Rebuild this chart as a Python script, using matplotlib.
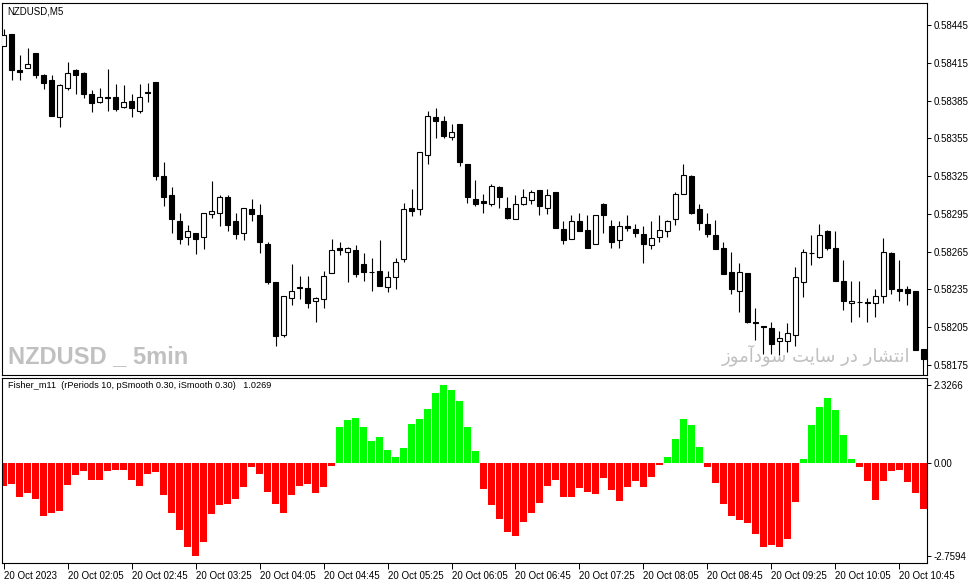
import unicodedata
import matplotlib
matplotlib.use("Agg")
import matplotlib.pyplot as plt
import numpy as np

plt.rcParams['font.family'] = ['Liberation Sans', 'DejaVu Sans']

# ---------------- data ----------------
opens = [
    0.58428, 0.58438, 0.58409, 0.58411, 0.58423, 0.58405, 0.58401, 0.58372, 0.58395, 0.58409,
    0.58407, 0.58390, 0.58384, 0.58388, 0.58388, 0.58380, 0.58385, 0.58377, 0.58392, 0.58400,
    0.58325, 0.58310, 0.58289, 0.58277, 0.58280, 0.58277, 0.58295, 0.58296, 0.58308, 0.58289,
    0.58280, 0.58299, 0.58294, 0.58271, 0.58241, 0.58199, 0.58228, 0.58236, 0.58236, 0.58226,
    0.58227, 0.58248, 0.58268, 0.58265, 0.58266, 0.58255, 0.58249, 0.58250, 0.58237, 0.58245,
    0.58259, 0.58300, 0.58299, 0.58342, 0.58372, 0.58369, 0.58356, 0.58366, 0.58335, 0.58307,
    0.58305, 0.58303, 0.58316, 0.58300, 0.58291, 0.58303, 0.58306, 0.58314, 0.58300, 0.58312,
    0.58283, 0.58275, 0.58289, 0.58282, 0.58271, 0.58303, 0.58285, 0.58274, 0.58285, 0.58283,
    0.58279, 0.58270, 0.58277, 0.58281, 0.58291, 0.58311, 0.58325, 0.58299, 0.58287, 0.58278,
    0.58268, 0.58249, 0.58234, 0.58248, 0.58209, 0.58206, 0.58204, 0.58194, 0.58194, 0.58199,
    0.58241, 0.58264, 0.58261, 0.58281, 0.58268, 0.58242, 0.58224, 0.58225, 0.58225, 0.58224,
    0.58230, 0.58264, 0.58235, 0.58235, 0.58234, 0.58188]

highs = [
    0.58442, 0.58438, 0.58421, 0.58427, 0.58423, 0.58406, 0.58405, 0.58398, 0.58416, 0.58410,
    0.58408, 0.58393, 0.58395, 0.58410, 0.58398, 0.58397, 0.58390, 0.58398, 0.58399, 0.58400,
    0.58336, 0.58316, 0.58296, 0.58286, 0.58280, 0.58296, 0.58321, 0.58310, 0.58310, 0.58296,
    0.58300, 0.58307, 0.58303, 0.58273, 0.58241, 0.58230, 0.58255, 0.58246, 0.58246, 0.58229,
    0.58250, 0.58275, 0.58273, 0.58269, 0.58270, 0.58264, 0.58260, 0.58274, 0.58250, 0.58260,
    0.58304, 0.58315, 0.58344, 0.58377, 0.58379, 0.58373, 0.58366, 0.58366, 0.58335, 0.58322,
    0.58311, 0.58319, 0.58317, 0.58308, 0.58310, 0.58315, 0.58314, 0.58314, 0.58315, 0.58312,
    0.58289, 0.58294, 0.58296, 0.58294, 0.58294, 0.58304, 0.58290, 0.58289, 0.58294, 0.58287,
    0.58285, 0.58289, 0.58294, 0.58290, 0.58312, 0.58335, 0.58326, 0.58303, 0.58296, 0.58290,
    0.58273, 0.58265, 0.58256, 0.58248, 0.58220, 0.58206, 0.58209, 0.58202, 0.58208, 0.58253,
    0.58267, 0.58278, 0.58287, 0.58282, 0.58281, 0.58258, 0.58242, 0.58242, 0.58228, 0.58235,
    0.58276, 0.58265, 0.58258, 0.58238, 0.58234, 0.58188]

lows = [
    0.58428, 0.58401, 0.58401, 0.58411, 0.58403, 0.58394, 0.58373, 0.58364, 0.58393, 0.58390,
    0.58387, 0.58376, 0.58383, 0.58377, 0.58377, 0.58379, 0.58372, 0.58375, 0.58384, 0.58322,
    0.58301, 0.58280, 0.58271, 0.58270, 0.58263, 0.58267, 0.58292, 0.58285, 0.58281, 0.58275,
    0.58274, 0.58289, 0.58264, 0.58239, 0.58190, 0.58197, 0.58223, 0.58227, 0.58220, 0.58209,
    0.58220, 0.58248, 0.58262, 0.58241, 0.58245, 0.58242, 0.58234, 0.58238, 0.58233, 0.58235,
    0.58257, 0.58293, 0.58294, 0.58335, 0.58355, 0.58355, 0.58354, 0.58333, 0.58304, 0.58301,
    0.58296, 0.58301, 0.58300, 0.58291, 0.58291, 0.58302, 0.58303, 0.58294, 0.58295, 0.58284,
    0.58271, 0.58275, 0.58281, 0.58268, 0.58271, 0.58280, 0.58268, 0.58268, 0.58281, 0.58277,
    0.58256, 0.58267, 0.58273, 0.58277, 0.58286, 0.58311, 0.58295, 0.58282, 0.58277, 0.58267,
    0.58247, 0.58231, 0.58217, 0.58208, 0.58195, 0.58184, 0.58184, 0.58183, 0.58185, 0.58190,
    0.58229, 0.58254, 0.58260, 0.58266, 0.58242, 0.58219, 0.58209, 0.58213, 0.58209, 0.58213,
    0.58224, 0.58231, 0.58226, 0.58223, 0.58187, 0.58163]

closes = [
    0.58437, 0.58409, 0.58408, 0.58414, 0.58405, 0.58399, 0.58373, 0.58397, 0.58407, 0.58405,
    0.58390, 0.58383, 0.58388, 0.58387, 0.58378, 0.58384, 0.58379, 0.58388, 0.58391, 0.58325,
    0.58308, 0.58291, 0.58275, 0.58281, 0.58275, 0.58296, 0.58297, 0.58308, 0.58286, 0.58279,
    0.58300, 0.58295, 0.58273, 0.58241, 0.58198, 0.58230, 0.58234, 0.58237, 0.58224, 0.58228,
    0.58246, 0.58266, 0.58266, 0.58268, 0.58247, 0.58249, 0.58249, 0.58238, 0.58245, 0.58257,
    0.58299, 0.58297, 0.58344, 0.58373, 0.58369, 0.58357, 0.58360, 0.58336, 0.58308, 0.58303,
    0.58304, 0.58317, 0.58308, 0.58292, 0.58303, 0.58308, 0.58312, 0.58301, 0.58310, 0.58284,
    0.58274, 0.58289, 0.58281, 0.58268, 0.58294, 0.58294, 0.58273, 0.58285, 0.58284, 0.58280,
    0.58271, 0.58276, 0.58282, 0.58289, 0.58311, 0.58326, 0.58296, 0.58288, 0.58279, 0.58267,
    0.58247, 0.58235, 0.58249, 0.58209, 0.58208, 0.58205, 0.58192, 0.58196, 0.58200, 0.58245,
    0.58265, 0.58264, 0.58278, 0.58268, 0.58242, 0.58226, 0.58226, 0.58225, 0.58224, 0.58230,
    0.58265, 0.58235, 0.58234, 0.58232, 0.58187, 0.58180]

fisher = [
    -0.67, -0.61, -1.00, -0.88, -1.06, -1.56, -1.47, -1.41, -0.64, -0.35,
    -0.23, -0.49, -0.49, -0.23, -0.20, -0.20, -0.49, -0.67, -0.32, -0.26,
    -0.94, -1.47, -2.00, -2.48, -2.7594, -2.33, -1.50, -1.26, -1.23, -1.06,
    -0.70, -0.11, -0.32, -0.85, -1.23, -1.47, -0.94, -0.67, -0.61, -0.88,
    -0.70, -0.08, 1.07, 1.27, 1.33, 1.07, 0.65, 0.77, 0.39, 0.18,
    0.44, 1.15, 1.30, 1.60, 2.07, 2.3266, 2.16, 1.84, 1.07, 0.36,
    -0.76, -1.26, -1.65, -2.06, -2.18, -1.74, -1.47, -1.20, -0.67, -0.49,
    -1.00, -1.00, -0.73, -0.85, -0.91, -0.46, -0.79, -1.12, -0.70, -0.52,
    -0.70, -0.43, -0.05, 0.19, 0.72, 1.31, 1.14, 0.48, -0.11, -0.58,
    -1.23, -1.56, -1.68, -1.77, -2.12, -2.48, -2.42, -2.48, -2.24, -1.17,
    0.13, 1.14, 1.67, 1.93, 1.58, 0.84, 0.13, -0.11, -0.52, -1.09,
    -0.52, -0.23, -0.20, -0.55, -0.88, -1.35]

price_ticks = [0.58445, 0.58415, 0.58385, 0.58355, 0.58325, 0.58295,
               0.58265, 0.58235, 0.58205, 0.58175]
fisher_ticks = [2.3266, 0.0, -2.7594]
fisher_tick_labels = ['2.3266', '0.00', '-2.7594']
time_tick_index = [0, 8, 16, 24, 32, 40, 48, 56, 64, 72, 80, 88, 96, 104, 112]
time_labels = ['20 Oct 2023', '20 Oct 02:05', '20 Oct 02:45', '20 Oct 03:25',
               '20 Oct 04:05', '20 Oct 04:45', '20 Oct 05:25', '20 Oct 06:05',
               '20 Oct 06:45', '20 Oct 07:25', '20 Oct 08:05', '20 Oct 08:45',
               '20 Oct 09:25', '20 Oct 10:05', '20 Oct 10:45']

symbol_title = 'NZDUSD,M5'
watermark = 'NZDUSD _ 5min'
persian_note = unicodedata.normalize('NFC', 'انتشار در سایت سودآموز')
indicator_title = 'Fisher_m11  (rPeriods 10, pSmooth 0.30, iSmooth 0.30)   1.0269'

# ---------------- simple Arabic-script shaping (presentation forms) -------------
FORMS = {  # isolated, final, initial, medial
    '\u0627': (0xFE8D, 0xFE8E, None, None),
    '\u0622': (0xFE81, 0xFE82, None, None),
    '\u0646': (0xFEE5, 0xFEE6, 0xFEE7, 0xFEE8),
    '\u062A': (0xFE95, 0xFE96, 0xFE97, 0xFE98),
    '\u0634': (0xFEB5, 0xFEB6, 0xFEB7, 0xFEB8),
    '\u0631': (0xFEAD, 0xFEAE, None, None),
    '\u062F': (0xFEA9, 0xFEAA, None, None),
    '\u0632': (0xFEAF, 0xFEB0, None, None),
    '\u0633': (0xFEB1, 0xFEB2, 0xFEB3, 0xFEB4),
    '\u06CC': (0xFBFC, 0xFBFD, 0xFEF3, 0xFEF4),
    '\u064A': (0xFEF1, 0xFEF2, 0xFEF3, 0xFEF4),
    '\u0648': (0xFEED, 0xFEEE, None, None),
    '\u0645': (0xFEE1, 0xFEE2, 0xFEE3, 0xFEE4),
}


def shape_word(w):
    out = []
    for i, ch in enumerate(w):
        f = FORMS.get(ch)
        if f is None:
            out.append(ch)
            continue
        prev_joins = i > 0 and w[i - 1] in FORMS and FORMS[w[i - 1]][2] is not None
        next_join = f[2] is not None and i < len(w) - 1 and w[i + 1] in FORMS
        if prev_joins and next_join:
            code = f[3]
        elif prev_joins:
            code = f[1]
        elif next_join:
            code = f[2]
        else:
            code = f[0]
        out.append(chr(code))
    return ''.join(reversed(out))


persian_visual = ' '.join(shape_word(w) for w in reversed(persian_note.split(' ')))

# ---------------- figure ----------------
W, H = 972, 584
fig = plt.figure(figsize=(W / 100, H / 100), dpi=100)
fig.patch.set_facecolor('white')


def px_axes(x0, y0, x1, y1):
    return fig.add_axes([x0 / W, 1 - y1 / H, (x1 - x0) / W, (y1 - y0) / H])


ax = px_axes(2, 3, 927, 375)
ax2 = px_axes(2, 378, 927, 563)

o = np.array(opens)
h = np.array(highs)
l = np.array(lows)
c = np.array(closes)
x = np.arange(len(o))
up = c >= o

ax.vlines(x, l, h, color='black', lw=0.8, zorder=2)
ax.bar(x, np.abs(c - o), bottom=np.minimum(o, c), width=0.6,
       color=np.where(up, 'white', 'black'), edgecolor='black', lw=0.8, zorder=3)

ax.set_xlim(-0.19, 115.44)
ax.set_ylim(0.58167, 0.584625)
ax.yaxis.tick_right()
ax.set_yticks(price_ticks)
ax.set_yticklabels([f'{p:.5f}' for p in price_ticks])
ax.set_xticks([])
ax.tick_params(axis='y', length=3, width=0.7, pad=2, labelsize=7, colors='black')

f = np.array(fisher)
ax2.bar(x, f, width=0.875, color=np.where(f >= 0, '#00FF00', '#FF0000'), lw=0)
ax2.set_xlim(-0.19, 115.44)
ax2.set_ylim(-2.966, 2.52)
ax2.yaxis.tick_right()
ax2.set_yticks(fisher_ticks)
ax2.set_yticklabels(fisher_tick_labels)
ax2.tick_params(axis='y', length=3, width=0.7, pad=2, labelsize=7)
ax2.set_xticks(time_tick_index)
ax2.set_xticklabels(time_labels)
ax2.tick_params(axis='x', length=4, width=0.7, pad=1.5, labelsize=7)
for lab in ax2.get_xticklabels():
    lab.set_ha('left')

for a in (ax, ax2):
    for s in a.spines.values():
        s.set_color('black')
        s.set_linewidth(0.8)

fig.text(7 / W, 1 - 11 / H, symbol_title, fontsize=7, va='center', ha='left')
fig.text(8 / W, 1 - 357 / H, watermark, fontsize=17, fontweight='bold',
         color='#c0c0c0', va='center', ha='left')
fig.text(910 / W, 1 - 355 / H, persian_visual, fontsize=13, color='#c0c0c0',
         va='center', ha='right', family=['DejaVu Sans'])
fig.text(8 / W, 1 - 386 / H, indicator_title, fontsize=6.6, va='center', ha='left')

fig.savefig('out.png', dpi=100)
